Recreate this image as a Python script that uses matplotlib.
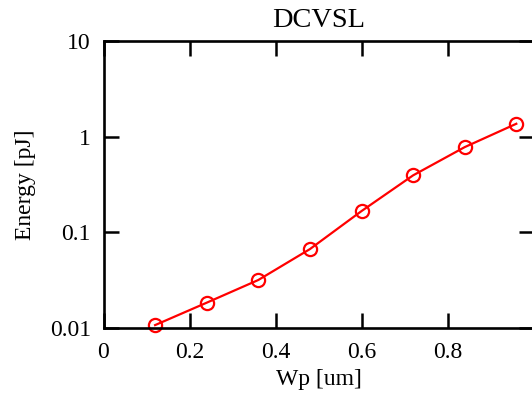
import matplotlib
matplotlib.use("Agg")
import matplotlib.pyplot as plt
from matplotlib.ticker import FixedLocator, NullLocator

# data
wp = [0.12, 0.24, 0.36, 0.48, 0.60, 0.72, 0.84, 0.96]
energy = [0.0108, 0.0185, 0.0319, 0.067, 0.167, 0.394, 0.776, 1.36]

xticks = [0, 0.2, 0.4, 0.6, 0.8, 1.0]
xticklabels = ["0", "0.2", "0.4", "0.6", "0.8", ""]
yticks = [0.01, 0.1, 1, 10]
yticklabels = ["0.01", "0.1", "1", "10"]

plt.rcParams["font.family"] = ["Liberation Serif", "DejaVu Serif"]
plt.rcParams["font.size"] = 17

fig = plt.figure(figsize=(5.32, 4.04), dpi=100)
ax = fig.add_axes([103.5 / 532, 1 - 328.3 / 404, 430 / 532, (328.3 - 40.7) / 404])

ax.plot(wp, energy, color="red", linewidth=1.6, marker="o", markersize=9.5,
        markerfacecolor="none", markeredgecolor="red", markeredgewidth=1.6,
        clip_on=False)

ax.set_yscale("log")
ax.set_xlim(0, 1)
ax.set_ylim(0.01, 10)
ax.xaxis.set_major_locator(FixedLocator(xticks))
ax.set_xticklabels(xticklabels)
ax.yaxis.set_major_locator(FixedLocator(yticks))
ax.set_yticklabels(yticklabels)
ax.yaxis.set_minor_locator(NullLocator())

ax.tick_params(direction="in", length=11, width=1.8, top=True, right=True)
ax.tick_params(axis="x", pad=10)
ax.tick_params(axis="y", pad=9)
for s in ax.spines.values():
    s.set_linewidth(1.9)

ax.set_title("DCVSL", pad=10)
ax.set_xlabel("Wp [um]", labelpad=4)
ax.set_ylabel("Energy [pJ]", labelpad=10)

fig.savefig("out.png", dpi=100)
